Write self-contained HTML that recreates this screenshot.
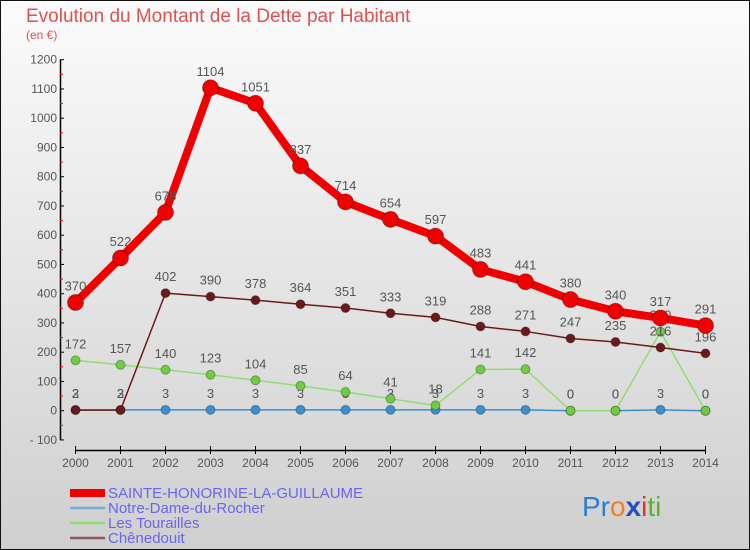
<!DOCTYPE html>
<html><head><meta charset="utf-8"><style>
body{margin:0}
svg{display:block;font-family:"Liberation Sans",sans-serif}
</style></head><body>
<svg id="c" width="750" height="550" xmlns="http://www.w3.org/2000/svg">
<defs><linearGradient id="bg" x1="0" y1="0" x2="0" y2="1"><stop offset="0" stop-color="#fbfbfb"/><stop offset="1" stop-color="#cfcfcf"/></linearGradient></defs>
<rect x="0.5" y="0.5" width="749" height="549" fill="url(#bg)" stroke="#111"/>
<text x="26" y="22" font-size="19" fill="#e05050">Evolution du Montant de la Dette par Habitant</text>
<text x="26" y="39" font-size="12" fill="#e05050">(en €)</text>
<g id="axes"></g>
<g id="series"></g>
<g id="legend" font-size="15" fill="#6666ee"></g>
<text x="582" y="516" font-size="28"><tspan fill="#2a7fd0">Pr</tspan><tspan fill="#f08020">o</tspan><tspan fill="#2050c0" font-weight="bold">x</tspan><tspan fill="#e03030">i</tspan><tspan fill="#60b030">ti</tspan></text>
</svg>
<script>
const years=[2000,2001,2002,2003,2004,2005,2006,2007,2008,2009,2010,2011,2012,2013,2014];
const yTicks=[-100,0,100,200,300,400,500,600,700,800,900,1000,1100,1200];
const sainte=[370,522,678,1104,1051,837,714,654,597,483,441,380,340,317,291];
const notre=[3,3,3,3,3,3,3,3,3,3,3,0,0,3,0];
const tourailles=[172,157,140,123,104,85,64,41,18,141,142,0,0,270,0];
const chene=[2,2,402,390,378,364,351,333,319,288,271,247,235,216,196];
const names=["SAINTE-HONORINE-LA-GUILLAUME","Notre-Dame-du-Rocher","Les Tourailles","Chênedouit"];
const NS="http://www.w3.org/2000/svg";
const X=y=>75.5+(y-2000)*45;
const Y=v=>410.7-v*0.2925;
function mk(t,a,p){const e=document.createElementNS(NS,t);for(const k in a)e.setAttribute(k,a[k]);p.appendChild(e);return e;}
const ax=document.getElementById('axes');
const yl=mk('line',{x1:60.5,y1:Y(1200),x2:60.5,y2:Y(-100),stroke:'#000','stroke-width':1.5},ax);


yTicks.forEach(v=>{
 mk('line',{x1:60,y1:Y(v),x2:64,y2:Y(v),stroke:'#000'},ax);
 if(v<1200) mk('line',{x1:60,y1:Y(v+50),x2:63,y2:Y(v+50),stroke:'#f00'},ax);
 const t=mk('text',{x:57,y:Y(v)+4,'font-size':12,'text-anchor':'end',fill:'#555'},ax);
 t.textContent=v<0?'- '+(-v):v;
 
 
});
const xl=mk('line',{x1:X(2000),y1:450.5,x2:X(2014),y2:450.5,stroke:'#000','stroke-width':1.5},ax);


years.forEach(y=>{
 mk('line',{x1:X(y),y1:446,x2:X(y),y2:454,stroke:'#000'},ax);
 const t=mk('text',{x:X(y),y:467,'font-size':12,'text-anchor':'middle',fill:'#555'},ax);
 t.textContent=y;
 
 
});
const sg=document.getElementById('series');
const defs=[
 {d:notre,c:'#3a8fd0',w:1.5,r:4.5,f:'#3a8fd0',n:'notre-dame'},
 {d:tourailles,c:'#90dd70',w:1.5,r:4.5,f:'#70cc40',n:'les-tourailles'},
 {d:chene,c:'#6a1a1a',w:1.5,r:4.5,f:'#6a1a1a',n:'chenedouit'},
 {d:sainte,c:'#f00000',w:8,r:8,f:'#f00000',n:'sainte-honorine'}];
defs.forEach(s=>{
 const g=mk('g',{},sg);
 
 
 const pts=s.d.map((v,i)=>X(years[i])+','+Y(v)).join(' ');
 mk('polyline',{points:pts,fill:'none',stroke:s.c,'stroke-width':s.w,'stroke-linejoin':'round'},g);
 s.d.forEach((v,i)=>{
  const p=mk('circle',{cx:X(years[i]),cy:Y(v),r:s.r,fill:s.f,stroke:'rgba(0,0,0,0.3)','stroke-width':1},g);
  
  
  const t=mk('text',{x:X(years[i]),y:Y(v)-12,'font-size':13,'text-anchor':'middle',fill:'#555'},g);
  t.textContent=v;
  
  
 });
});
const lg=document.getElementById('legend');
const lc=['#f00000','#7aaed0','#90dd70','#8a5a5a'],lw=[8,2.5,2.5,2.5];
names.forEach((n,i)=>{
 const yy=493+i*15;
 const g=mk('g',{},lg);
 
 
 mk('line',{x1:70,y1:yy,x2:105,y2:yy,stroke:lc[i],'stroke-width':lw[i]},g);
 const t=mk('text',{x:108,y:yy+5},g);
 t.textContent=n;
});
</script>
</body></html>
